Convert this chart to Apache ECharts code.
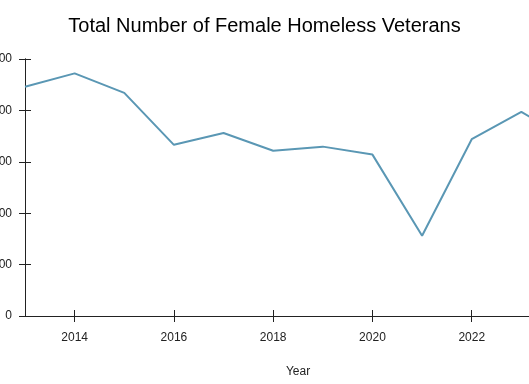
<!DOCTYPE html>
<html><head><meta charset="utf-8">
<script src="https://cdn.jsdelivr.net/npm/echarts@6/dist/echarts.min.js"></script>
<style>html,body{margin:0;padding:0;background:#fff}#c{width:529px;height:384px}</style>
</head><body><div id="c"></div>
<script>
const years = [2013, 2014, 2015, 2016, 2017, 2018, 2019, 2020, 2021, 2022, 2023, 2024];
const femaleHomeless = [4460, 4720, 4340, 3330, 3560, 3215, 3295, 3140, 1560, 3440, 3970, 3400];
const xTicks = [2014, 2016, 2018, 2020, 2022, 2024];
const titleText = 'Total Number of Female Homeless Veterans';
const xName = 'Year';

const font = 'Liberation Sans, Arial, sans-serif';
const axisCommon = {
  axisLine: {show: true, onZero: false, lineStyle: {color: '#222', width: 1}},
  splitLine: {show: false}
};
const chart = echarts.init(document.getElementById('c'));
chart.setOption({
  animation: false,
  backgroundColor: '#fff',
  title: {text: titleText, left: 'center', top: 11,
    textStyle: {fontFamily: font, fontSize: 20, fontWeight: 'normal', color: '#000'}},
  grid: {left: 25, right: -42, top: 59, bottom: 68, containLabel: false, outerBoundsMode: 'none'},
  xAxis: [
    Object.assign({type: 'value', min: 2013, max: 2024,
      name: xName, nameLocation: 'middle', nameGap: 50,
      nameTextStyle: {fontFamily: font, fontSize: 12, color: '#222'},
      axisTick: {show: true, inside: false, length: 6, customValues: xTicks, lineStyle: {color: '#222'}},
      axisLabel: {customValues: xTicks, margin: 16, fontFamily: font, fontSize: 12, color: '#222',
        formatter: v => String(v)}}, axisCommon),
    Object.assign({type: 'value', min: 2013, max: 2024, position: 'bottom', offset: 0,
      axisTick: {show: true, inside: true, length: 6, customValues: xTicks, lineStyle: {color: '#222'}},
      axisLabel: {show: false}}, axisCommon)
  ],
  yAxis: [
    Object.assign({type: 'value', min: 0, max: 5000, interval: 1000,
      axisTick: {show: true, inside: false, length: 6, lineStyle: {color: '#222'}},
      axisLabel: {margin: 13, fontFamily: font, fontSize: 12, color: '#222', formatter: v => String(v)}}, axisCommon),
    Object.assign({type: 'value', min: 0, max: 5000, interval: 1000, position: 'left', offset: 0,
      axisTick: {show: true, inside: true, length: 6, lineStyle: {color: '#222'}},
      axisLabel: {show: false}}, axisCommon)
  ],
  series: [{
    type: 'line',
    data: years.map((y, i) => [y, femaleHomeless[i]]),
    symbol: 'none',
    lineStyle: {color: '#5a97b4', width: 2},
    clip: false
  }]
});
</script></body></html>
